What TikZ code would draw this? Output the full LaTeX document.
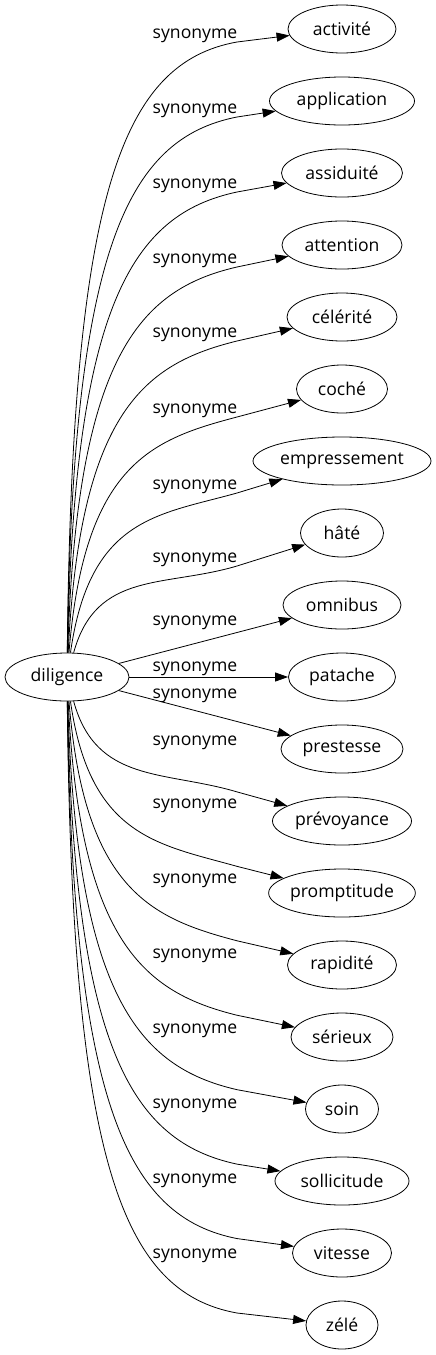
\documentclass[tikz,border=0pt]{standalone}
\usepackage{fontspec}
\setmainfont{Open Sans}
\usetikzlibrary{shapes,arrows.meta,calc,positioning}

\begin{document}
\begin{tikzpicture}[x=1pt,y=-1pt,
  font=\fontsize{17.6}{21}\selectfont,
  word/.style={draw,ellipse,inner sep=0pt,minimum height=48pt,line width=0.8pt},
  lab/.style={inner sep=0pt,yshift=-1.5pt},
  edge/.style={line width=0.8pt,-{Triangle[length=13pt,width=9pt]}}]
  \useasboundingbox (0,0) rectangle (436,1355);
  \node[word,minimum width=124pt] (dil) at (67,677) {diligence};
  \foreach \n/\txt/\w/\ly [count=\i from 0] in {activite/activité/108/34,
    application/application/145/109, assiduite/assiduité/121/184,
    attention/attention/120/259, celerite/célérité/110/333,
    coche/coché/91/409, empressement/empressement/178/485,
    hate/hâté/83/558, omnibus/omnibus/118/621, patache/patache/107/667,
    prestesse/prestesse/122/694, prevoyance/prévoyance/139/741,
    promptitude/promptitude/142/804, rapidite/rapidité/109/879,
    serieux/sérieux/102/954, soin/soin/73/1029,
    sollicitude/sollicitude/134/1104, vitesse/vitesse/99/1179,
    zele/zélé/72/1254}{
    \pgfmathsetmacro\ty{29+72*\i}
    \node[word,minimum width=\w pt] (\n) at (342,\ty) {\txt};
    \node[lab] (l\n) at (195,\ly) {synonyme};
    \pgfmathtruncatemacro\far{abs(\i-9)>1}
    \ifnum\far=1
      % bend up or down, then run in under the label
      \pgfmathsetmacro\s{sign(\ty-677)}
      \pgfmathsetmacro\q{1-abs(\ty-677)/648}
      \pgfmathsetmacro\my{\s<0 ? \ly+8 : \ty-12-22*\q}
      \pgfmathsetmacro\sg{0.18+0.15*\q}
      \pgfmathsetmacro\kk{60+57*(1-\q)}
      \pgfmathsetmacro\ax{72+40*\q*\q}
      \pgfmathsetmacro\ay{677+\s*0.74*abs(\ty-677)}
      \pgfmathsetmacro\bx{237-\kk}
      \pgfmathsetmacro\bby{\my-\s*\sg*\kk}
      \draw[edge] (dil) .. controls (\ax,\ay) and (\bx,\bby) .. (237,\my) -- (\n);
    \else
      \draw[edge] (dil) -- (\n);
    \fi
  }
\end{tikzpicture}
\end{document}
